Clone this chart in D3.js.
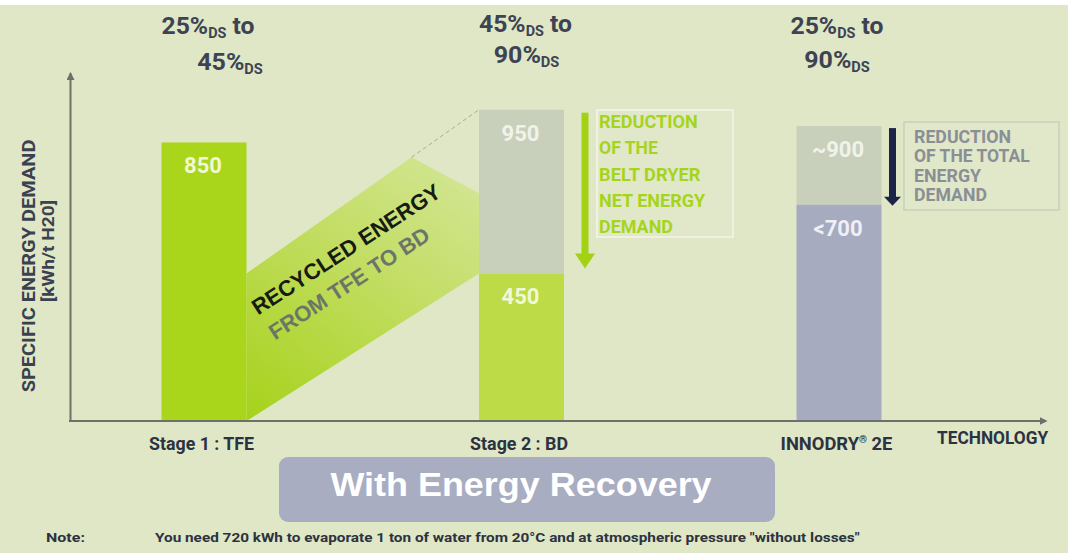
<!DOCTYPE html>
<html>
<head>
<meta charset="utf-8">
<script src="https://cdn.jsdelivr.net/npm/d3@7"></script>
<style>
  body { margin: 0; background: #fff; }
  svg { display: block; font-family: Roboto, 'DejaVu Sans', sans-serif; font-weight: 700; }
</style>
</head>
<body>
<svg id="chart"></svg>
<script>
// values
const categories = ['Stage 1 : TFE', 'Stage 2 : BD', 'INNODRY® 2E']
const netDemand = [850, 450, 660]          // coloured part of each bar
const grossDemand = [null, 950, 900]       // grey part above it (before reduction)
const netLabels = ['850', '450', '<700']
const grossLabels = [null, '950', '~900']
const dsFrom = ['25%', '45%', '25%']
const dsTo = ['45%', '90%', '90%']
const beltDryerNote = ['REDUCTION', 'OF THE', 'BELT DRYER', 'NET ENERGY', 'DEMAND']
const totalNote = ['REDUCTION', 'OF THE TOTAL', 'ENERGY', 'DEMAND']
const yTitle = ['SPECIFIC ENERGY DEMAND', '[kWh/t H20]']
const xTitle = 'TECHNOLOGY'
const recycled = ['RECYCLED ENERGY', 'FROM TFE TO BD']
const banner = 'With Energy Recovery'
const note = ['Note:', 'You need 720 kWh to evaporate 1 ton of water from 20°C and at atmospheric pressure "without losses"']

const W = 1068, H = 553
const barW = 85
const netColors = ['#a9d51a', '#bddb47', '#a7abbf']
const grossColor = '#c8d0bc'
const dark = '#2c3242'
const arial = "'Liberation Sans', Arial, sans-serif"

const svg = d3.select('#chart').attr('width', W).attr('height', H)

// squeeze a text (placed at x=0) to a given width, like the condensed font of the original
const squeeze = (t, w) => {
  const bw = t.node().getBBox().width
  if (bw > 0) t.attr('transform', `scale(${w / bw},1)`)
  return t
}
const put = (parent, transform) => parent.append('g').attr('transform', transform).append('text')

svg.append('rect').attr('width', W).attr('height', H).attr('fill', '#dfe7c6')
svg.append('rect').attr('width', W).attr('height', 5).attr('fill', '#ffffff')

const x = d3.scalePoint().domain(categories).range([204, 839])
const y = d3.scaleLinear().domain([0, 1062]).range([421, 73])

const defs = svg.append('defs')
defs.append('marker')
  .attr('id', 'arrow')
  .attr('viewBox', '0 0 10 10')
  .attr('refX', 8).attr('refY', 5)
  .attr('markerWidth', 4).attr('markerHeight', 4)
  .attr('orient', 'auto')
  .append('path').attr('d', 'M0,0L10,5L0,10z').attr('fill', '#6b7168')

// recycled energy band from TFE to BD
const xL = x(categories[0]) + barW / 2
const xR = x(categories[1]) - barW / 2
const lo = netDemand[1], hi = grossDemand[1]
const fold = 0.71, foldDown = 0.49
const peak = [xL + fold * (xR - xL), y(lo) + fold * (y(hi) - y(lo))]

const grad = defs.append('linearGradient')
  .attr('id', 'band').attr('gradientUnits', 'userSpaceOnUse')
  .attr('x1', xL).attr('y1', y(0)).attr('x2', xR).attr('y2', y(hi))
grad.append('stop').attr('offset', 0).attr('stop-color', '#a6d21a')
grad.append('stop').attr('offset', 0.5).attr('stop-color', '#c2dd62')
grad.append('stop').attr('offset', 1).attr('stop-color', '#d8e9a6')

svg.append('path')
  .attr('d', d3.line()([[xL, y(0)], [xL, y(lo)], peak, [xR, y(lo + foldDown * (hi - lo))], [xR, y(lo)]]) + 'Z')
  .attr('fill', 'url(#band)')

svg.append('line')
  .attr('x1', peak[0]).attr('y1', peak[1]).attr('x2', xR).attr('y2', y(hi))
  .attr('stroke', '#a6ad9c').attr('stroke-width', 1).attr('stroke-dasharray', '4,3')

// bars
const rows = categories.map((c, i) => ({ c, i, net: netDemand[i], gross: grossDemand[i] }))
const bars = svg.append('g')

bars.selectAll('.gross')
  .data(rows.filter(d => d.gross != null))
  .enter().append('rect')
  .attr('x', d => x(d.c) - barW / 2)
  .attr('y', d => y(d.gross))
  .attr('width', barW)
  .attr('height', d => y(d.net) - y(d.gross))
  .attr('fill', grossColor)

bars.selectAll('.net')
  .data(rows)
  .enter().append('rect')
  .attr('x', d => x(d.c) - barW / 2)
  .attr('y', d => y(d.net))
  .attr('width', barW)
  .attr('height', d => y(0) - y(d.net))
  .attr('fill', d => netColors[d.i])

bars.selectAll('.netLabel')
  .data(rows)
  .enter().append('text')
  .attr('x', d => x(d.c) - 1)
  .attr('y', d => y(d.net) + 23)
  .attr('dy', '0.36em')
  .attr('text-anchor', 'middle')
  .attr('font-size', 22)
  .attr('fill', d => d.i === 2 ? '#eef0f6' : '#f1f8d6')
  .text(d => netLabels[d.i])

bars.selectAll('.grossLabel')
  .data(rows.filter(d => d.gross != null))
  .enter().append('text')
  .attr('x', d => x(d.c) - 1)
  .attr('y', d => y(d.gross) + 23)
  .attr('dy', '0.36em')
  .attr('text-anchor', 'middle')
  .attr('font-size', 22)
  .attr('fill', '#f1f3ea')
  .text(d => grossLabels[d.i])

// dryness ranges above the bars
const line1Dx = [4, 4, -2]
const line2Dx = [26, 5, -2]
const line1Y = [34, 32, 34]
const line2Y = [70, 63, 68]
rows.forEach(d => {
  const parts = [[dsFrom[d.i], ' to', 0, line1Y[d.i], 93], [dsTo[d.i], '', 1, line2Y[d.i], 66]]
  parts.forEach(([pct, tail, k, by, w]) => {
    const t = put(svg, `translate(${x(d.c) + (k ? line2Dx[d.i] : line1Dx[d.i])},${by})`)
      .attr('text-anchor', 'middle').attr('font-size', 24).attr('fill', '#3d4352')
    t.append('tspan').text(pct)
    t.append('tspan').attr('font-size', 14).attr('dy', 4).text('DS')
    if (tail) t.append('tspan').attr('dy', -4).text(tail)
    squeeze(t, w)
  })
})

// reduction arrows
const arrow = (cx, y1, y2, color, shaft, head, headLen) => {
  svg.append('rect').attr('x', cx - shaft / 2).attr('y', y1)
    .attr('width', shaft).attr('height', y2 - y1 - headLen + 1).attr('fill', color)
  svg.append('path')
    .attr('d', `M${cx - head / 2},${y2 - headLen}L${cx + head / 2},${y2 - headLen}L${cx},${y2}Z`)
    .attr('fill', color)
}
arrow(x(categories[1]) + barW / 2 + 21, y(grossDemand[1]) + 3, y(netDemand[1]) - 5, '#a3d114', 7, 20, 15)
arrow(x(categories[2]) + barW / 2 + 11, y(grossDemand[2]) + 2, y(netDemand[2]) + 1, '#1c2548', 7, 17, 9)

// annotation boxes
svg.append('rect').attr('x', 597).attr('y', 110).attr('width', 136).attr('height', 127)
  .attr('fill', 'rgba(255,255,255,0.08)').attr('stroke', '#f3f6ea').attr('stroke-width', 1.5)
const beltW = [99, 59, 102, 107, 74]
beltDryerNote.forEach((s, i) => {
  squeeze(put(svg, `translate(599,${121.5 + i * 26.3})`)
    .attr('dy', '0.36em').attr('font-size', 18).attr('fill', '#a6d41c').text(s), beltW[i])
})

svg.append('rect').attr('x', 904).attr('y', 122).attr('width', 155).attr('height', 88)
  .attr('fill', 'rgba(255,255,255,0.06)').attr('stroke', '#c9cfbd').attr('stroke-width', 1.5)
const totalW = [97, 116, 68, 73]
totalNote.forEach((s, i) => {
  squeeze(put(svg, `translate(914,${136.7 + i * 19.3})`)
    .attr('dy', '0.36em').attr('font-size', 18).attr('fill', '#8a8f96').text(s), totalW[i])
})

// recycled energy text on the band
const recColors = ['#171b14', '#6c7568']
const recPos = [[346, 249], [349, 283]]
recycled.forEach((s, i) => {
  put(svg, `translate(${recPos[i][0]},${recPos[i][1]}) rotate(-33)`)
    .attr('text-anchor', 'middle').attr('dy', '0.36em')
    .attr('font-family', arial)
    .attr('font-size', 22).attr('fill', recColors[i]).text(s)
})

// axes
svg.append('g')
  .attr('transform', 'translate(70,0)')
  .call(d3.axisLeft(y).tickValues([]).tickSizeOuter(0))
  .call(g => g.select('.domain').attr('stroke', '#6b7168').attr('stroke-width', 2).attr('marker-end', 'url(#arrow)'))

svg.append('line')
  .attr('x1', 69).attr('x2', 1046).attr('y1', y(0)).attr('y2', y(0))
  .attr('stroke', '#6b7168').attr('stroke-width', 2).attr('marker-end', 'url(#arrow)')

const tickW = [105, 98, 112]
svg.append('g')
  .attr('transform', `translate(0,${y(0)})`)
  .call(d3.axisBottom(x).tickSize(0).tickPadding(0))
  .call(g => g.select('.domain').remove())
  .call(g => g.attr('font-family', null).attr('font-size', null))
  .selectAll('.tick text')
  .attr('y', 29).attr('dy', 0).attr('x', -3)
  .attr('font-size', 18).attr('fill', dark)
  .each(function (d, i) {
    const t = d3.select(this)
    if (d.includes('®')) {
      const [a, b] = d.split('®')
      t.text(null)
      t.append('tspan').text(a)
      t.append('tspan').attr('font-size', 10).attr('dy', -7).text('®')
      t.append('tspan').attr('dy', 7).text(b)
    }
    squeeze(t, tickW[i])
  })

squeeze(put(svg, 'translate(937,444)').attr('font-size', 18).attr('fill', dark).text(xTitle), 112)

squeeze(put(svg, 'translate(29,266) rotate(-90)').attr('text-anchor', 'middle').attr('dy', '0.36em')
  .attr('font-size', 18).attr('fill', '#3a4150').text(yTitle[0]), 253)
squeeze(put(svg, 'translate(48,251) rotate(-90)').attr('text-anchor', 'middle').attr('dy', '0.36em')
  .attr('font-size', 16).attr('fill', '#3a4150').text(yTitle[1]), 102)

// banner
svg.append('rect').attr('x', 279).attr('y', 457).attr('width', 496).attr('height', 65).attr('rx', 9)
  .attr('fill', '#a9adc1')
squeeze(put(svg, 'translate(521,496)').attr('text-anchor', 'middle')
  .attr('font-family', arial)
  .attr('font-size', 33).attr('fill', '#ffffff').text(banner), 382)

// footnote
squeeze(put(svg, 'translate(46,542)').attr('font-size', 13).attr('fill', dark).text(note[0]), 39)
squeeze(put(svg, 'translate(155,542)').attr('font-size', 13).attr('fill', dark).text(note[1]), 705)
</script>
</body>
</html>
